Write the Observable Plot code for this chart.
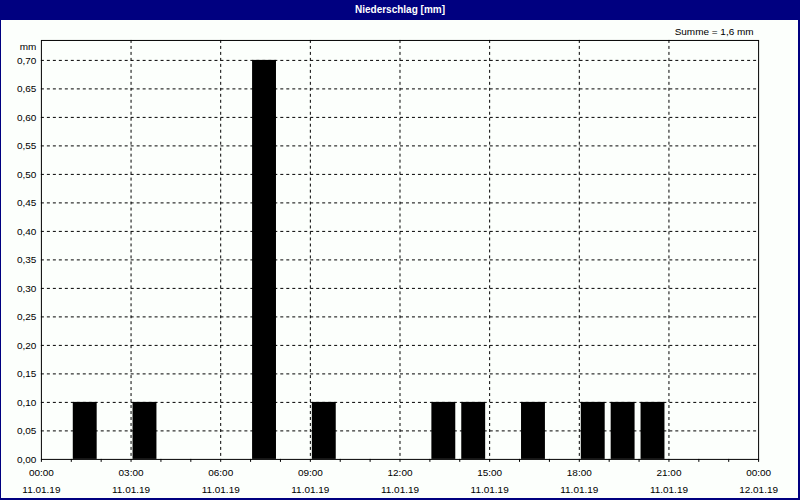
<!DOCTYPE html>
<html>
<head>
<meta charset="utf-8">
<script src="https://cdn.jsdelivr.net/npm/d3@7"></script>
<script src="https://cdn.jsdelivr.net/npm/@observablehq/plot@0.6"></script>
<style>
  html, body { margin: 0; padding: 0; background: #fcfffc; }
  #wrap { width: 800px; height: 500px; box-sizing: border-box; border-left: 1px solid #000080; border-right: 2px solid #000080; border-bottom: 2px solid #000080; background: #fcfffc; overflow: hidden; position: relative; }
  #title { height: 20px; background: #000080; color: #fff; font: bold 10px "Liberation Sans", Arial, sans-serif; text-align: center; line-height: 20px; margin-left: -1px; margin-right: -2px; }
  #chart { position: absolute; left: -1px; top: 20px; }
  svg { display: block; }
</style>
</head>
<body>
<div id="wrap">
  <div id="title">Niederschlag [mm]</div>
  <div id="chart"></div>
</div>
<script>
// Data
const hours = [1, 3, 7, 9, 13, 14, 16, 18, 19, 20];
const values = [0.10, 0.10, 0.70, 0.10, 0.10, 0.10, 0.10, 0.10, 0.10, 0.10];
const xTicks = [0, 3, 6, 9, 12, 15, 18, 21, 24];
const xTickTimes = ["00:00", "03:00", "06:00", "09:00", "12:00", "15:00", "18:00", "21:00", "00:00"];
const xTickDates = ["11.01.19", "11.01.19", "11.01.19", "11.01.19", "11.01.19", "11.01.19", "11.01.19", "11.01.19", "12.01.19"];
const hourTicks = d3.range(0, 25);
const yTicks = [0, 0.05, 0.10, 0.15, 0.20, 0.25, 0.30, 0.35, 0.40, 0.45, 0.50, 0.55, 0.60, 0.65, 0.70];
const yUnit = "mm";
const sumLabel = "Summe = 1,6 mm";

const data = hours.map((h, i) => ({hour: h, value: values[i]}));
const fmtY = v => d3.format(".2f")(v).replace(".", ",");
const fmtX = v => { const i = xTicks.indexOf(v); return xTickTimes[i] + "\n" + xTickDates[i]; };

const chart = Plot.plot({
  width: 800,
  height: 480,
  marginTop: 20,
  marginBottom: 40,
  marginLeft: 41,
  marginRight: 40,
  style: { fontFamily: "'Liberation Sans', Arial, sans-serif", fontSize: "10px", background: "#fcfffc", color: "#000" },
  x: { domain: [0, 24] },
  y: { domain: [0, 0.735] },
  marks: [
    Plot.gridY(yTicks.filter(d => d > 0), { stroke: "#000", strokeOpacity: 1, strokeDasharray: "3,3" }),
    Plot.gridX(xTicks.filter(d => d > 0 && d < 24), { stroke: "#000", strokeOpacity: 1, strokeDasharray: "3,3" }),
    Plot.rectY(data, { x1: "hour", x2: d => d.hour + 1, y: "value", fill: "#000", insetLeft: 2, insetRight: 4 }),
    Plot.axisY({ ticks: yTicks, tickFormat: fmtY, tickSize: 0, tickPadding: 5, label: null }),
    Plot.axisX({ ticks: hourTicks, tickFormat: null, tickSize: 3, label: null, text: null }),
    Plot.axisX({ ticks: xTicks, tickFormat: fmtX, tickSize: 0, tickPadding: 5, lineHeight: 1.65, label: null }),
    Plot.frame({ stroke: "#000" }),
    Plot.text([yUnit], { frameAnchor: "top-left", text: d => d, textAnchor: "end", dx: -5, dy: 2 }),
    Plot.text([sumLabel], { frameAnchor: "top-right", text: d => d, textAnchor: "end", dx: -5, dy: -13 })
  ]
});
document.getElementById("chart").appendChild(chart);
</script>
</body>
</html>
